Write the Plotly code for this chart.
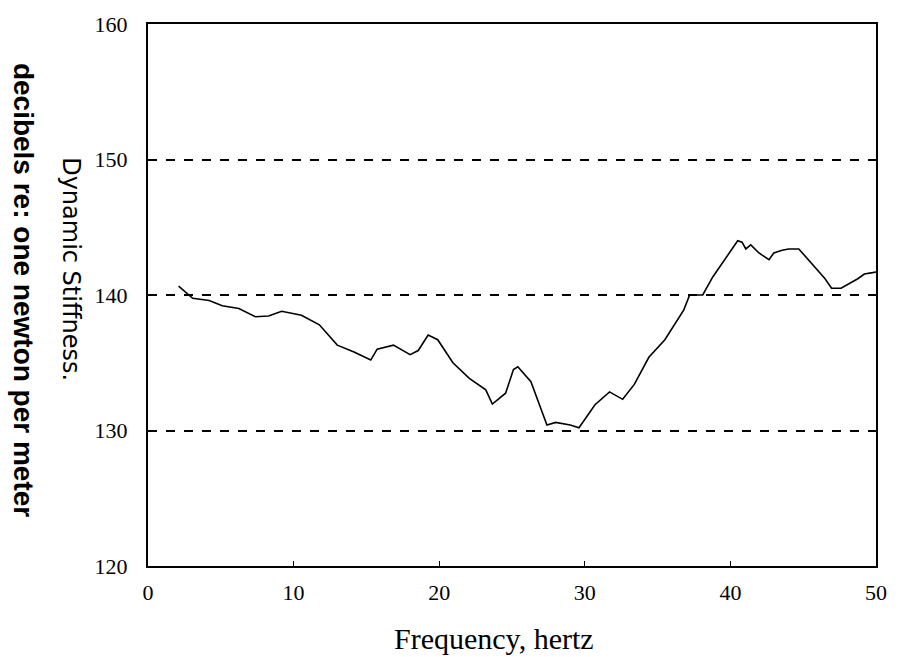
import plotly.graph_objects as go

freq = [2.1, 3.07, 4.2, 5.1, 6.24, 7.37, 8.28, 9.18, 10.54, 11.77, 13.0, 14.15, 15.3, 15.74,
        16.86, 18.0, 18.56, 19.24, 19.9, 20.94, 22.07, 23.2, 23.65, 24.56, 25.1, 25.4, 26.3,
        27.4, 28.0, 29.0, 29.6, 30.7, 31.7, 32.6, 33.4, 34.4, 35.5, 36.8, 37.2, 38.1, 38.8,
        39.5, 39.94, 40.5, 40.8, 41.06, 41.4, 41.96, 42.65, 42.98, 43.55, 44.0, 44.7, 45.35,
        46.5, 46.95, 47.6, 48.75, 49.2, 49.77, 50.0]
stiffness = [140.66, 139.76, 139.6, 139.2, 139.0, 138.4, 138.45, 138.8, 138.5, 137.8, 136.3,
             135.8, 135.2, 136.0, 136.3, 135.6, 135.9, 137.05, 136.7, 135.0, 133.85, 133.0,
             131.95, 132.75, 134.5, 134.7, 133.6, 130.4, 130.6, 130.4, 130.2, 131.9, 132.85,
             132.3, 133.4, 135.4, 136.7, 138.9, 140.0, 140.0, 141.35, 142.46, 143.2, 144.0,
             143.9, 143.4, 143.7, 143.1, 142.6, 143.1, 143.3, 143.4, 143.4, 142.6, 141.2,
             140.5, 140.5, 141.2, 141.55, 141.65, 141.7]

x_ticks = [0, 10, 20, 30, 40, 50]
y_ticks = [120, 130, 140, 150, 160]

serif = "Liberation Serif, Times New Roman, serif"
sans = "DejaVu Sans, Arial, sans-serif"

fig = go.Figure()
fig.add_trace(go.Scatter(x=freq, y=stiffness, mode="lines",
                         line=dict(color="black", width=1.6), showlegend=False))

fig.update_layout(
    width=899, height=657,
    margin=dict(l=148, r=14, t=24, b=91),
    paper_bgcolor="white", plot_bgcolor="white",
    font=dict(family=serif, color="black", size=22),
    xaxis=dict(range=[0, 50], tickvals=x_ticks, ticks="inside", ticklen=5,
               tickcolor="black", showgrid=False, zeroline=False,
               showline=True, linecolor="black", linewidth=2, mirror=True,
               ticklabelstandoff=6),
    yaxis=dict(range=[120, 160], tickvals=y_ticks, ticks="", showgrid=True,
               gridcolor="black", griddash="dash", gridwidth=1.5, zeroline=False,
               showline=True, linecolor="black", linewidth=2, mirror=True,
               ticklabelstandoff=14),
)

fig.add_annotation(text="Frequency, hertz", xref="paper", yref="paper",
                   x=0.475, y=-0.133, xanchor="center", yanchor="middle",
                   showarrow=False, font=dict(family=serif, size=30, color="black"))
fig.add_annotation(text="Dynamic Stiffness.", textangle=90, xref="paper", yref="paper",
                   x=-0.106, y=0.548, xanchor="center", yanchor="middle",
                   showarrow=False, font=dict(family=sans, size=24, color="black"))
fig.add_annotation(text="<b>decibels re: one newton per meter</b>", textangle=90,
                   xref="paper", yref="paper", x=-0.17, y=0.509,
                   xanchor="center", yanchor="middle",
                   showarrow=False, font=dict(family="Liberation Sans, Arial, sans-serif",
                                              size=28, color="black"))

fig.write_html("out.html")
